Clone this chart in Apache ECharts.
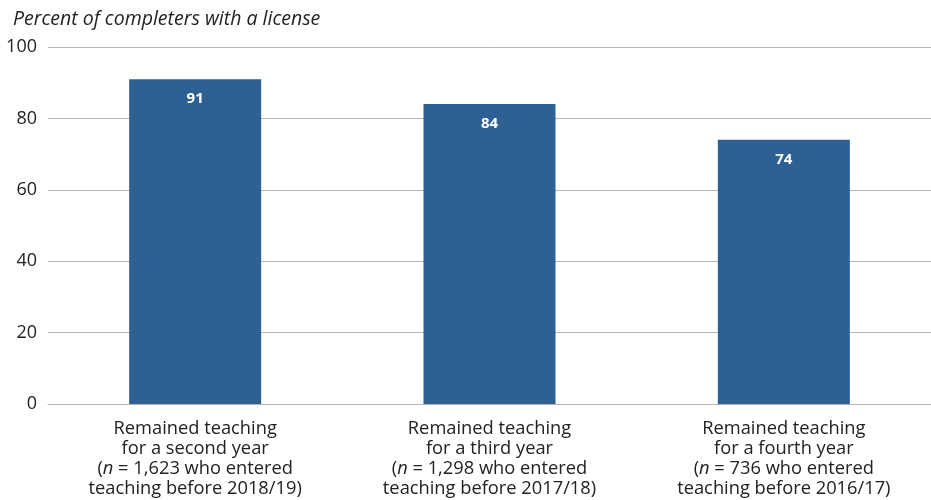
<!DOCTYPE html>
<html><head><meta charset="utf-8">
<script src="https://cdn.jsdelivr.net/npm/echarts@6/dist/echarts.min.js"></script>
<style>html,body{margin:0;padding:0;background:#fff}#c{width:931px;height:500px}</style>
</head><body><div id="c"></div>
<script>
var line1 = ["Remained teaching", "Remained teaching", "Remained teaching"];
var line2 = ["for a second year", "for a third year", "for a fourth year"];
var nValues = ["1,623", "1,298", "736"];
var entered = ["2018/19", "2017/18", "2016/17"];
var values = [91, 84, 74];
var yTicks = [0, 20, 40, 60, 80, 100];
var title = "Percent of completers with a license";

var cats = line1.map(function(_, i){ return String(i); });
var chart = echarts.init(document.getElementById('c'));
chart.setOption({
  animation: false,
  textStyle: { fontFamily: 'Open Sans' },
  title: { text: title, left: 8, top: 4, textStyle: { fontFamily: 'Open Sans', fontStyle: 'italic', fontWeight: 'normal', fontSize: 19.5, color: '#222' } },
  grid: { left: 48, right: 0, top: 47, bottom: 96 },
  xAxis: {
    type: 'category', data: cats,
    axisTick: { show: false },
    axisLine: { lineStyle: { color: '#b5b5b5', width: 1 } },
    axisLabel: {
      interval: 0, margin: 15, lineHeight: 20,
      formatter: function(v){ var i = +v; return '{t|' + line1[i] + '}\n{t|' + line2[i] + '}\n{t|(}{i|n}{t| = ' + nValues[i] + ' who entered}\n{t|teaching before ' + entered[i] + ')}'; },
      rich: {
        t: { fontFamily: 'Open Sans', fontSize: 18.3, color: '#222', lineHeight: 20 },
        i: { fontFamily: 'Open Sans', fontSize: 18.3, fontStyle: 'italic', color: '#222', lineHeight: 20 }
      }
    }
  },
  yAxis: {
    type: 'value', min: 0, max: 100, interval: 20,
    axisLine: { show: false }, axisTick: { show: false },
    axisLabel: { margin: 11, fontFamily: 'Open Sans', fontSize: 18, color: '#222', formatter: function(v){ return yTicks.indexOf(v) >= 0 ? String(v) : ''; } },
    splitLine: { lineStyle: { color: '#b5b5b5', width: 1 } }
  },
  series: [{
    type: 'bar', data: values, barWidth: 132,
    itemStyle: { color: '#2e6094' },
    label: { show: true, position: 'insideTop', distance: 12, color: '#fff', fontWeight: 'bold', fontSize: 15, fontFamily: 'Open Sans' }
  }]
});
</script></body></html>
